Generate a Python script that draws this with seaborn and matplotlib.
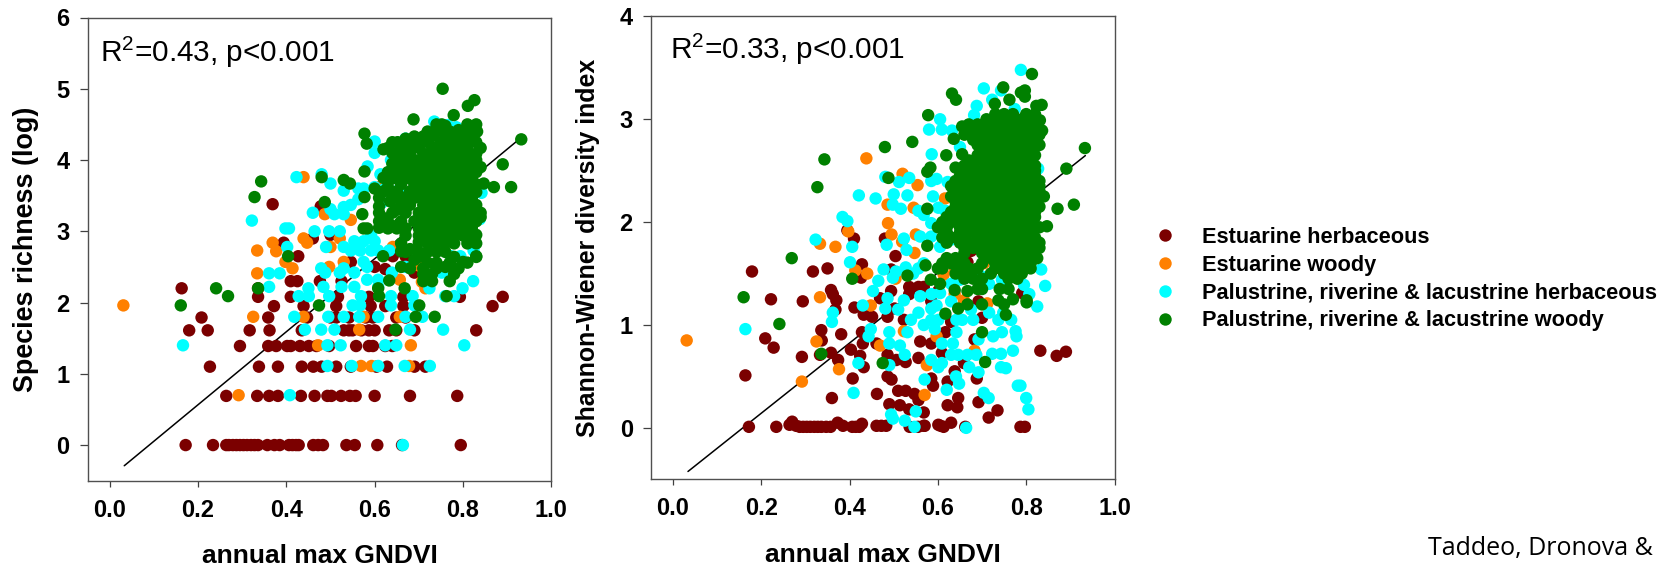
import matplotlib
matplotlib.use("Agg")
import matplotlib.pyplot as plt
import pandas as pd
import seaborn as sns

class_names = [
    "Estuarine herbaceous",
    "Estuarine woody",
    "Palustrine, riverine & lacustrine herbaceous",
    "Palustrine, riverine & lacustrine woody",
]
class_colors = ["#7B0000", "#FF8000", "#00FFFF", "#008000"]

x_ticks = [0.0, 0.2, 0.4, 0.6, 0.8, 1.0]
richness_ticks = [0, 1, 2, 3, 4, 5, 6]
shannon_ticks = [0, 1, 2, 3, 4]

# left panel: species richness (log)
rich_red_x = [
    0.172, 0.234, 0.264, 0.27, 0.279, 0.287, 0.295, 0.303, 0.311, 0.32, 0.328, 0.336, 0.357, 0.373, 0.385, 0.406, 0.414, 0.422, 0.428, 0.461, 0.472, 0.483, 0.536, 0.555, 0.606, 0.662, 0.795,
    0.264, 0.334, 0.361, 0.381, 0.433, 0.464, 0.493, 0.502, 0.524, 0.544, 0.557, 0.6, 0.68, 0.787,
    0.227, 0.338, 0.381, 0.435, 0.461, 0.48, 0.513, 0.546, 0.604, 0.628, 0.69, 0.715,
    0.295, 0.359, 0.377, 0.402, 0.41, 0.431, 0.451, 0.468, 0.497, 0.558, 0.587, 0.596, 0.624, 0.64,
    0.18, 0.222, 0.317, 0.362, 0.435, 0.53, 0.542, 0.55, 0.57, 0.587, 0.6, 0.633, 0.649, 0.69, 0.83,
    0.208, 0.359, 0.447, 0.5, 0.513, 0.542, 0.58, 0.596, 0.649, 0.67,
    0.372, 0.439, 0.513, 0.591, 0.624, 0.665, 0.867,
    0.336, 0.41, 0.517, 0.587, 0.665, 0.793, 0.89,
    0.163, 0.336, 0.41, 0.425, 0.476, 0.525,
    0.369, 0.394, 0.427, 0.478, 0.46, 0.5, 0.546, 0.6, 0.624, 0.641, 0.67, 0.69,
]
rich_red_y = [
    0, 0, 0, 0, 0, 0, 0, 0, 0, 0, 0, 0, 0, 0, 0, 0, 0, 0, 0, 0, 0, 0, 0, 0, 0, 0, 0,
    0.69, 0.69, 0.69, 0.69, 0.69, 0.69, 0.69, 0.69, 0.69, 0.69, 0.69, 0.69, 0.69, 0.69,
    1.1, 1.1, 1.1, 1.1, 1.1, 1.1, 1.1, 1.1, 1.1, 1.1, 1.1, 1.1,
    1.39, 1.39, 1.39, 1.39, 1.39, 1.39, 1.39, 1.39, 1.39, 1.39, 1.39, 1.39, 1.39, 1.39,
    1.61, 1.61, 1.61, 1.61, 1.61, 1.61, 1.61, 1.61, 1.61, 1.61, 1.61, 1.61, 1.61, 1.61, 1.61,
    1.79, 1.79, 1.79, 1.79, 1.79, 1.79, 1.79, 1.79, 1.79, 1.79,
    1.95, 1.95, 1.95, 1.95, 1.95, 1.95, 1.95,
    2.08, 2.08, 2.08, 2.08, 2.08, 2.08, 2.08,
    2.2, 2.2, 2.3, 2.3, 2.3, 2.3,
    3.38, 2.84, 2.65, 3.35, 2.9, 2.95, 2.57, 2.5, 2.47, 2.65, 2.65, 2.42,
]
rich_orange_x = [0.031, 0.325, 0.439, 0.575, 0.657, 0.565, 0.472, 0.682, 0.569, 0.593, 0.678, 0.292, 0.334, 0.334, 0.369, 0.377, 0.398, 0.414, 0.439, 0.447, 0.439, 0.487, 0.5, 0.497, 0.521, 0.53, 0.546, 0.616, 0.641, 0.657, 0.707, 0.7, 0.715]
rich_orange_y = [1.96, 1.8, 1.8, 1.8, 1.8, 1.62, 1.4, 1.4, 1.11, 1.11, 1.11, 0.7, 2.73, 2.41, 2.84, 2.72, 2.57, 2.48, 2.9, 2.84, 3.76, 3.24, 2.78, 2.5, 2.9, 2.57, 3.16, 3.64, 2.78, 2.32, 2.29, 2.52, 2.2]
rich_cyan_x = [
    0.166, 0.322, 0.423, 0.48, 0.5, 0.398, 0.406, 0.402, 0.361, 0.385, 0.361, 0.46, 0.464, 0.49, 0.479, 0.488, 0.428, 0.451, 0.45, 0.484, 0.497,
    0.418, 0.495, 0.53, 0.565, 0.608, 0.67, 0.708, 0.442, 0.479, 0.509, 0.68, 0.755, 0.493, 0.523, 0.624, 0.649, 0.803, 0.493, 0.548, 0.608, 0.668, 0.725, 0.408, 0.664,
    0.525, 0.554, 0.569, 0.55, 0.567, 0.637, 0.637, 0.686, 0.69, 0.608, 0.639, 0.583, 0.608, 0.554, 0.521, 0.53, 0.583, 0.575,
    0.546, 0.567, 0.592, 0.608, 0.633, 0.53, 0.554, 0.575, 0.6, 0.592, 0.497, 0.521, 0.509, 0.53, 0.5, 0.53, 0.546, 0.563, 0.575, 0.6, 0.616, 0.53, 0.563,
    0.6, 0.6, 0.584, 0.613, 0.637, 0.67, 0.735, 0.785, 0.765, 0.842, 0.838, 0.823, 0.799, 0.78, 0.76, 0.724, 0.773, 0.752, 0.794, 0.773, 0.824, 0.67, 0.699, 0.657, 0.724, 0.624, 0.64,
]
rich_cyan_y = [
    1.4, 3.15, 3.76, 3.8, 3.67, 3.04, 3.04, 2.78, 2.41, 2.41, 2.22, 3.26, 3.0, 2.78, 2.48, 2.42, 2.09, 2.09, 2.2, 2.22, 2.09,
    1.8, 1.8, 1.8, 1.8, 1.8, 1.8, 1.8, 1.62, 1.62, 1.62, 1.62, 1.62, 1.4, 1.4, 1.4, 1.4, 1.4, 1.11, 1.11, 1.11, 1.11, 1.11, 0.7, 0,
    2.22, 2.22, 2.09, 1.96, 1.96, 2.09, 1.96, 2.09, 1.96, 2.22, 2.42, 2.32, 2.32, 2.42, 2.42, 2.48, 2.5, 2.57,
    2.73, 2.73, 2.73, 2.73, 2.73, 2.78, 2.86, 2.86, 2.86, 2.94, 3.0, 3.0, 3.24, 3.24, 3.31, 3.34, 3.37, 3.45, 3.6, 3.62, 3.4, 3.57, 3.6,
    4.26, 4.1, 3.91, 3.8, 4.0, 4.3, 4.54, 4.46, 4.49, 3.54, 3.17, 2.3, 2.2, 2.09, 2.09, 2.2, 2.42, 2.42, 2.65, 2.65, 2.73, 2.5, 3.17, 3.6, 4.35, 3.6, 4.0,
]
rich_green_x = [
    0.754, 0.826, 0.811, 0.688, 0.779, 0.577, 0.582, 0.577, 0.577, 0.572, 0.575, 0.583, 0.343, 0.328, 0.48, 0.487, 0.53, 0.544, 0.404, 0.336, 0.241, 0.268, 0.161, 0.474,
    0.647, 0.693, 0.736, 0.701, 0.668, 0.608, 0.61, 0.763, 0.633, 0.619, 0.932, 0.89, 0.87, 0.909, 0.847,
    0.74, 0.752, 0.76, 0.81, 0.83, 0.72, 0.741, 0.77, 0.79, 0.8, 0.822, 0.832, 0.69, 0.71, 0.733, 0.76, 0.78, 0.8, 0.822,
    0.64, 0.652, 0.67, 0.7, 0.72, 0.75, 0.77, 0.79, 0.81, 0.83, 0.63, 0.66, 0.68, 0.7, 0.73, 0.75, 0.77, 0.79, 0.81, 0.84,
    0.66, 0.68, 0.71, 0.73, 0.75, 0.77, 0.79, 0.81, 0.83, 0.67, 0.69, 0.71, 0.73, 0.75, 0.77, 0.79, 0.81, 0.83,
    0.68, 0.7, 0.72, 0.74, 0.76, 0.78, 0.8, 0.82, 0.63, 0.65, 0.67, 0.69, 0.71, 0.73, 0.75, 0.77, 0.79, 0.81, 0.83,
    0.64, 0.66, 0.68, 0.7, 0.72, 0.74, 0.76, 0.78, 0.8, 0.82, 0.66, 0.69, 0.71, 0.73, 0.75, 0.77, 0.79, 0.81, 0.83,
    0.62, 0.65, 0.68, 0.7, 0.72, 0.74, 0.76, 0.78, 0.8, 0.82, 0.61, 0.64, 0.67, 0.69, 0.71, 0.73, 0.75, 0.77, 0.79, 0.81, 0.82,
    0.66, 0.68, 0.71, 0.73, 0.75, 0.77, 0.79, 0.81, 0.83, 0.61, 0.64, 0.67, 0.7, 0.72, 0.74, 0.76, 0.78, 0.8, 0.82, 0.84,
    0.61, 0.63, 0.66, 0.69, 0.71, 0.73, 0.75, 0.77, 0.79, 0.81, 0.83, 0.63, 0.65, 0.67, 0.7, 0.72, 0.74, 0.76, 0.78, 0.8,
    0.67, 0.7, 0.72, 0.74, 0.76, 0.78, 0.8, 0.82, 0.66, 0.72, 0.74, 0.76, 0.78, 0.81, 0.83, 0.67, 0.7, 0.72, 0.74, 0.76,
    0.7, 0.78, 0.83, 0.72, 0.74, 0.77, 0.81, 0.68, 0.71, 0.74, 0.78, 0.79, 0.71, 0.73, 0.71, 0.73, 0.77,
    0.62, 0.64, 0.65, 0.64, 0.655, 0.665, 0.62, 0.6, 0.63, 0.655, 0.61, 0.635, 0.65, 0.625, 0.655, 0.61, 0.69, 0.67, 0.84, 0.83, 0.83, 0.84, 0.82, 0.83, 0.8, 0.78, 0.76, 0.66, 0.68, 0.7, 0.69, 0.66,
]
rich_green_y = [
    5.0, 4.84, 4.76, 4.57, 4.63, 4.37, 4.23, 3.84, 3.48, 3.24, 3.04, 3.04, 3.7, 3.48, 3.76, 3.41, 3.72, 3.67, 2.65, 2.2, 2.2, 2.09, 1.96, 1.96,
    1.62, 1.8, 1.8, 1.96, 2.2, 2.2, 2.09, 2.09, 2.31, 2.65, 4.29, 3.94, 3.62, 3.62, 3.67,
    4.5, 4.5, 4.48, 4.5, 4.5, 4.4, 4.41, 4.4, 4.42, 4.4, 4.41, 4.4, 4.33, 4.33, 4.34, 4.33, 4.33, 4.33, 4.33,
    4.25, 4.25, 4.25, 4.26, 4.25, 4.25, 4.25, 4.26, 4.25, 4.25, 4.17, 4.17, 4.17, 4.17, 4.18, 4.17, 4.17, 4.17, 4.17, 4.17,
    4.09, 4.09, 4.09, 4.09, 4.09, 4.1, 4.09, 4.09, 4.09, 4.0, 4.0, 4.0, 4.01, 4.0, 4.0, 4.0, 4.0, 4.0,
    3.91, 3.91, 3.91, 3.91, 3.92, 3.91, 3.91, 3.91, 3.83, 3.83, 3.83, 3.83, 3.83, 3.83, 3.84, 3.83, 3.83, 3.83, 3.83,
    3.74, 3.74, 3.74, 3.74, 3.74, 3.74, 3.74, 3.75, 3.74, 3.74, 3.66, 3.66, 3.66, 3.66, 3.66, 3.66, 3.66, 3.66, 3.66,
    3.56, 3.56, 3.56, 3.56, 3.56, 3.56, 3.56, 3.57, 3.56, 3.56, 3.47, 3.47, 3.47, 3.47, 3.47, 3.47, 3.47, 3.47, 3.47, 3.47, 3.47,
    3.37, 3.37, 3.37, 3.37, 3.37, 3.37, 3.37, 3.37, 3.37, 3.26, 3.26, 3.26, 3.26, 3.26, 3.26, 3.26, 3.26, 3.26, 3.26, 3.26,
    3.14, 3.14, 3.14, 3.14, 3.14, 3.14, 3.14, 3.14, 3.14, 3.14, 3.14, 3.04, 3.04, 3.04, 3.04, 3.04, 3.04, 3.04, 3.04, 3.04,
    2.94, 2.94, 2.94, 2.94, 2.94, 2.94, 2.94, 2.94, 2.83, 2.83, 2.83, 2.83, 2.83, 2.83, 2.83, 2.71, 2.71, 2.71, 2.71, 2.71,
    2.64, 2.64, 2.64, 2.56, 2.56, 2.56, 2.56, 2.48, 2.48, 2.48, 2.48, 2.48, 2.4, 2.4, 2.3, 2.3, 2.3,
    4.15, 4.1, 4.02, 3.95, 3.88, 4.0, 3.75, 3.6, 3.62, 3.5, 3.35, 3.42, 3.3, 3.18, 3.1, 3.05, 4.2, 4.3, 3.9, 3.55, 2.95, 3.2, 3.05, 2.65, 2.57, 2.4, 2.5, 2.5, 2.75, 2.85, 2.6, 2.72,
]

# right panel: Shannon-Wiener index
shan_red_x = [
    0.172, 0.234, 0.264, 0.27, 0.279, 0.287, 0.295, 0.303, 0.311, 0.32, 0.328, 0.336, 0.347, 0.357, 0.373, 0.385, 0.406, 0.414, 0.422, 0.428, 0.461, 0.472, 0.483, 0.536, 0.555, 0.57, 0.606, 0.613, 0.662, 0.787, 0.797,
    0.179, 0.222, 0.209, 0.228, 0.164, 0.317, 0.294, 0.35, 0.358, 0.362, 0.37, 0.368, 0.336, 0.337, 0.381, 0.292, 0.333, 0.358, 0.374, 0.403, 0.424, 0.432, 0.407, 0.36, 0.462,
    0.428, 0.426, 0.411, 0.41, 0.395, 0.48, 0.504, 0.494, 0.494, 0.469, 0.432, 0.451, 0.428, 0.43, 0.461, 0.486, 0.502, 0.523, 0.486, 0.506, 0.527, 0.556, 0.56, 0.585, 0.609, 0.617, 0.63,
    0.659, 0.638, 0.622, 0.646, 0.622, 0.644, 0.63, 0.692, 0.715, 0.735, 0.486, 0.495, 0.585, 0.589, 0.688, 0.49, 0.51, 0.527, 0.547, 0.556, 0.514, 0.535, 0.568, 0.601, 0.568,
    0.535, 0.556, 0.535, 0.568, 0.585, 0.601, 0.692, 0.7, 0.683, 0.832, 0.869, 0.89, 0.791, 0.675, 0.667,
]
shan_red_y = [
    0.01, 0.01, 0.03, 0.06, 0.02, 0.01, 0.01, 0.01, 0.01, 0.01, 0.01, 0.01, 0.01, 0.01, 0.05, 0.02, 0.01, 0.01, 0.01, 0.04, 0.02, 0.02, 0.02, 0.01, 0.01, 0.02, 0.02, 0.01, 0.01, 0.01, 0.01,
    1.52, 1.25, 0.87, 0.78, 0.51, 1.52, 1.23, 1.55, 1.34, 1.3, 1.24, 1.15, 0.95, 0.85, 0.91, 0.69, 0.71, 0.73, 0.66, 0.76, 0.7, 0.59, 0.48, 0.29, 0.33,
    1.59, 1.46, 1.17, 1.84, 1.92, 1.84, 1.67, 1.54, 1.33, 1.26, 1.1, 1.08, 0.93, 0.82, 0.82, 1.08, 1.16, 1.05, 0.71, 0.66, 0.64, 0.68, 0.84, 0.82, 0.73, 0.93, 1.03,
    0.63, 0.55, 0.45, 0.29, 0.22, 0.2, 0.05, 0.25, 0.1, 0.17, 0.5, 0.47, 0.48, 0.41, 0.48, 0.23, 0.36, 0.36, 0.33, 0.27, 0.22, 0.18, 0.15, 0.03, 0.02,
    1.37, 1.37, 1.3, 1.37, 1.23, 1.33, 1.23, 1.07, 0.86, 0.75, 0.7, 0.74, 1.31, 1.72, 1.61,
]
shan_orange_x = [0.031, 0.333, 0.368, 0.397, 0.438, 0.413, 0.44, 0.333, 0.325, 0.376, 0.292, 0.448, 0.469, 0.504, 0.486, 0.487, 0.495, 0.519, 0.52, 0.554, 0.545, 0.55, 0.547, 0.523, 0.597, 0.575, 0.57, 0.616, 0.609, 0.613, 0.638, 0.638, 0.659, 0.683, 0.712, 0.733, 0.675, 0.704]
shan_orange_y = [0.85, 1.79, 1.76, 1.91, 2.62, 1.53, 1.5, 1.27, 0.84, 0.57, 0.45, 1.19, 0.8, 1.45, 2.17, 1.99, 1.88, 1.81, 2.47, 2.36, 2.14, 1.88, 1.7, 0.94, 0.89, 0.61, 0.32, 2.23, 1.97, 1.49, 1.54, 1.3, 1.24, 0.75, 1.21, 3.01, 2.32, 1.6]
shan_cyan_x = [
    0.164, 0.323, 0.384, 0.395, 0.406, 0.401, 0.362, 0.36, 0.421, 0.459, 0.481, 0.512, 0.535, 0.5, 0.531, 0.498, 0.516, 0.523, 0.484, 0.529, 0.477, 0.527, 0.498, 0.465, 0.453, 0.43, 0.486, 0.481, 0.523, 0.51,
    0.448, 0.443, 0.49, 0.49, 0.514, 0.531, 0.525, 0.42, 0.49, 0.409, 0.57, 0.585, 0.601, 0.609, 0.494, 0.498, 0.525, 0.55, 0.547, 0.664, 0.62, 0.641, 0.648, 0.671, 0.692, 0.704, 0.715, 0.781, 0.787, 0.8, 0.805,
    0.743, 0.754, 0.723, 0.743, 0.77, 0.778, 0.776, 0.725, 0.745, 0.692, 0.687, 0.667, 0.646, 0.63, 0.642, 0.634, 0.609, 0.593, 0.568, 0.539, 0.585, 0.601, 0.642, 0.655, 0.68, 0.675, 0.63, 0.585, 0.597, 0.56, 0.585, 0.605, 0.556, 0.63, 0.65,
    0.716, 0.737, 0.766, 0.748, 0.807, 0.825, 0.843, 0.834, 0.795, 0.716, 0.745, 0.7, 0.568, 0.556, 0.544, 0.505, 0.605, 0.63, 0.56, 0.585, 0.568, 0.556, 0.585, 0.601, 0.617, 0.589, 0.585, 0.597, 0.622, 0.586, 0.58, 0.605, 0.609, 0.632, 0.65, 0.682, 0.688, 0.704, 0.723, 0.743, 0.788, 0.827, 0.774,
]
shan_cyan_y = [
    0.96, 1.83, 2.05, 2.01, 1.76, 1.61, 1.12, 1.03, 2.26, 2.23, 2.44, 2.39, 2.43, 2.27, 2.26, 2.17, 2.13, 1.84, 1.78, 1.73, 1.54, 1.56, 1.46, 1.43, 1.33, 1.19, 1.26, 1.16, 1.24, 1.15,
    0.96, 0.89, 0.93, 0.82, 0.8, 0.93, 0.71, 0.63, 0.61, 0.34, 0.47, 0.66, 0.59, 0.63, 0.13, 0.09, 0.07, 0.16, 0.01, 0.0, 0.37, 0.5, 0.43, 0.59, 0.54, 0.34, 0.29, 0.41, 0.41, 0.29, 0.18,
    0.59, 0.58, 0.72, 0.72, 0.75, 0.89, 0.94, 0.89, 0.93, 0.86, 0.71, 0.71, 0.71, 0.71, 0.93, 0.82, 0.82, 0.96, 1.0, 1.05, 1.05, 1.05, 1.05, 1.05, 1.05, 1.15, 1.23, 1.16, 1.19, 1.28, 1.3, 1.31, 1.12, 1.4, 1.44,
    1.12, 1.05, 1.05, 1.12, 1.3, 1.18, 1.38, 1.54, 1.39, 1.4, 1.44, 1.47, 1.6, 1.55, 1.5, 1.52, 1.76, 1.83, 1.86, 1.86, 2.07, 2.11, 1.99, 2.14, 2.11, 2.25, 2.4, 2.42, 2.39, 2.66, 2.9, 3.0, 2.9, 2.89, 2.73, 3.04, 3.13, 3.3, 3.19, 3.28, 3.48, 2.52, 3.1,
]
shan_green_x = [
    0.813, 0.748, 0.632, 0.641, 0.578, 0.542, 0.48, 0.636, 0.343, 0.327, 0.488, 0.576, 0.583, 0.619, 0.64, 0.655, 0.933, 0.891, 0.871, 0.908, 0.847, 0.269, 0.16, 0.241, 0.406, 0.336, 0.475, 0.707, 0.7,
    0.531, 0.572, 0.576, 0.576, 0.584, 0.605, 0.638, 0.617, 0.646, 0.667, 0.667, 0.737, 0.754, 0.77, 0.801, 0.801, 0.655, 0.675, 0.696, 0.72, 0.729, 0.762, 0.788, 0.797, 0.797, 0.823, 0.835, 0.831, 0.836,
    0.73, 0.75, 0.77, 0.8, 0.82, 0.67, 0.69, 0.72, 0.74, 0.76, 0.78, 0.8, 0.82, 0.66, 0.68, 0.7, 0.73, 0.75, 0.77, 0.79, 0.81, 0.83, 0.69, 0.71, 0.73, 0.75, 0.77, 0.79, 0.81, 0.83,
    0.69, 0.72, 0.74, 0.76, 0.78, 0.8, 0.82, 0.66, 0.68, 0.71, 0.73, 0.75, 0.77, 0.79, 0.81, 0.82, 0.65, 0.67, 0.69, 0.72, 0.74, 0.76, 0.78, 0.8, 0.82,
    0.63, 0.65, 0.67, 0.7, 0.72, 0.74, 0.76, 0.78, 0.8, 0.83, 0.63, 0.65, 0.68, 0.7, 0.73, 0.75, 0.77, 0.79, 0.81, 0.84, 0.64, 0.66, 0.69, 0.71, 0.73, 0.75, 0.77, 0.79, 0.81, 0.83,
    0.62, 0.64, 0.67, 0.7, 0.72, 0.74, 0.76, 0.78, 0.8, 0.82, 0.6, 0.62, 0.65, 0.68, 0.71, 0.73, 0.75, 0.77, 0.79, 0.81, 0.83, 0.61, 0.63, 0.66, 0.69, 0.72, 0.74, 0.76, 0.78, 0.8, 0.82,
    0.66, 0.68, 0.71, 0.73, 0.75, 0.77, 0.79, 0.81, 0.83, 0.62, 0.64, 0.72, 0.74, 0.76, 0.78, 0.8, 0.825, 0.6, 0.61, 0.65, 0.67, 0.69, 0.73, 0.75, 0.77, 0.79, 0.81,
    0.66, 0.68, 0.7, 0.76, 0.78, 0.74, 0.76, 0.7, 0.69, 0.7, 0.75,
    0.71, 0.74, 0.76, 0.79, 0.81, 0.7, 0.72, 0.74, 0.76, 0.78, 0.8, 0.82, 0.68, 0.7, 0.72, 0.74, 0.76, 0.78, 0.8, 0.82,
    0.7, 0.73, 0.75, 0.77, 0.79, 0.81, 0.67, 0.7, 0.73, 0.75, 0.77, 0.79, 0.81, 0.66, 0.68, 0.7, 0.72, 0.74, 0.76, 0.78, 0.8, 0.82,
    0.64, 0.66, 0.68, 0.71, 0.73, 0.75, 0.77, 0.79, 0.81, 0.83, 0.64, 0.66, 0.69, 0.71, 0.73, 0.75, 0.77, 0.79, 0.81, 0.83, 0.64, 0.67, 0.7, 0.72, 0.74, 0.76, 0.78, 0.8, 0.82,
    0.63, 0.65, 0.68, 0.7, 0.72, 0.74, 0.76, 0.78, 0.8, 0.82, 0.61, 0.63, 0.66, 0.69, 0.71, 0.73, 0.75, 0.77, 0.79, 0.81, 0.62, 0.65, 0.67, 0.7, 0.73, 0.75, 0.77, 0.79, 0.81,
    0.62, 0.65, 0.67, 0.7, 0.73, 0.75, 0.77, 0.79, 0.81, 0.83, 0.66, 0.7, 0.73, 0.75, 0.77, 0.79, 0.81, 0.61, 0.63, 0.66, 0.7, 0.73, 0.75, 0.77, 0.79, 0.81, 0.64, 0.67, 0.72, 0.75, 0.77, 0.79,
]
shan_green_y = [
    3.44, 3.31, 3.25, 3.19, 3.04, 2.78, 2.73, 2.81, 2.61, 2.34, 2.43, 2.49, 2.53, 2.65, 2.53, 2.66, 2.72, 2.52, 2.13, 2.17, 1.96, 1.65, 1.27, 1.01, 1.45, 0.72, 0.63, 0.64, 0.93,
    1.48, 1.58, 1.77, 2.13, 1.44, 1.4, 1.34, 1.11, 1.16, 1.33, 1.2, 1.24, 1.1, 1.25, 1.24, 1.22, 2.93, 2.91, 2.93, 2.91, 3.15, 3.19, 3.26, 3.28, 3.22, 3.13, 3.14, 2.99, 2.89,
    3.05, 3.05, 3.05, 3.05, 3.05, 2.95, 2.95, 2.95, 2.95, 2.95, 2.95, 2.95, 2.95, 2.85, 2.85, 2.85, 2.85, 2.85, 2.85, 2.85, 2.85, 2.85, 2.75, 2.75, 2.75, 2.75, 2.75, 2.75, 2.75, 2.75,
    2.65, 2.65, 2.65, 2.65, 2.65, 2.65, 2.65, 2.55, 2.55, 2.55, 2.55, 2.55, 2.55, 2.55, 2.55, 2.55, 2.45, 2.45, 2.45, 2.45, 2.45, 2.45, 2.45, 2.45, 2.45,
    2.35, 2.35, 2.35, 2.35, 2.35, 2.35, 2.35, 2.35, 2.35, 2.35, 2.25, 2.25, 2.25, 2.25, 2.25, 2.25, 2.25, 2.25, 2.25, 2.25, 2.15, 2.15, 2.15, 2.15, 2.15, 2.15, 2.15, 2.15, 2.15, 2.15,
    2.05, 2.05, 2.05, 2.05, 2.05, 2.05, 2.05, 2.05, 2.05, 2.05, 1.95, 1.95, 1.95, 1.95, 1.95, 1.95, 1.95, 1.95, 1.95, 1.95, 1.95, 1.85, 1.85, 1.85, 1.85, 1.85, 1.85, 1.85, 1.85, 1.85, 1.85,
    1.75, 1.75, 1.75, 1.75, 1.75, 1.75, 1.75, 1.75, 1.75, 1.65, 1.65, 1.65, 1.65, 1.65, 1.65, 1.65, 1.65, 1.55, 1.55, 1.55, 1.55, 1.55, 1.55, 1.55, 1.55, 1.55, 1.55,
    1.45, 1.45, 1.45, 1.45, 1.45, 1.35, 1.35, 1.35, 1.35, 1.2, 1.2,
    3.0, 3.0, 3.0, 3.0, 3.0, 2.9, 2.9, 2.9, 2.9, 2.9, 2.9, 2.9, 2.8, 2.8, 2.8, 2.8, 2.8, 2.8, 2.8, 2.8,
    2.7, 2.7, 2.7, 2.7, 2.7, 2.7, 2.6, 2.6, 2.6, 2.6, 2.6, 2.6, 2.6, 2.5, 2.5, 2.5, 2.5, 2.5, 2.5, 2.5, 2.5, 2.5,
    2.4, 2.4, 2.4, 2.4, 2.4, 2.4, 2.4, 2.4, 2.4, 2.4, 2.3, 2.3, 2.3, 2.3, 2.3, 2.3, 2.3, 2.3, 2.3, 2.3, 2.2, 2.2, 2.2, 2.2, 2.2, 2.2, 2.2, 2.2, 2.2,
    2.1, 2.1, 2.1, 2.1, 2.1, 2.1, 2.1, 2.1, 2.1, 2.1, 2.0, 2.0, 2.0, 2.0, 2.0, 2.0, 2.0, 2.0, 2.0, 2.0, 1.9, 1.9, 1.9, 1.9, 1.9, 1.9, 1.9, 1.9, 1.9,
    1.8, 1.8, 1.8, 1.8, 1.8, 1.8, 1.8, 1.8, 1.8, 1.8, 1.7, 1.7, 1.7, 1.7, 1.7, 1.7, 1.7, 1.6, 1.6, 1.6, 1.6, 1.6, 1.6, 1.6, 1.6, 1.6, 1.5, 1.5, 1.5, 1.5, 1.5, 1.5,
]

# fitted lines
rich_fit_x = [0.033, 0.925]
rich_fit_y = [-0.29, 4.28]
shan_fit_x = [0.034, 0.934]
shan_fit_y = [-0.424, 2.647]


def make_frame(xs, ys):
    frames = []
    for name, x, y in zip(class_names, xs, ys):
        frames.append(pd.DataFrame({"x": x, "y": y, "cls": name}))
    return pd.concat(frames, ignore_index=True)


def draw_panel(ax, df, fit_x, fit_y, ylim, yticks, ylabel, label_size, note, note_pos, legend):
    sns.lineplot(x=fit_x, y=fit_y, color="black", linewidth=1.1, ax=ax, zorder=1, legend=False)
    sns.scatterplot(
        data=df, x="x", y="y", hue="cls", hue_order=class_names,
        palette=class_colors, s=80, linewidth=0, ax=ax, zorder=2, legend=legend,
    )
    ax.set_xlim(-0.05, 1.0)
    ax.set_ylim(*ylim)
    ax.set_xticks(x_ticks)
    ax.set_xticklabels(["%.1f" % t for t in x_ticks])
    ax.set_yticks(yticks)
    ax.tick_params(axis="y", length=6, width=0.9, color="#404040", pad=7, labelsize=17)
    ax.tick_params(axis="x", length=4, width=0.9, color="#404040", pad=9, labelsize=17)
    for lab in ax.get_xticklabels() + ax.get_yticklabels():
        lab.set_fontweight("bold")
    ax.set_xlabel("annual max GNDVI", fontsize=19, fontweight="bold", labelpad=16)
    ax.set_ylabel(ylabel, fontsize=label_size, fontweight="bold")
    for s in ax.spines.values():
        s.set_visible(True)
        s.set_color("#505050")
        s.set_linewidth(1.0)
    ax.text(note_pos[0], note_pos[1], note, transform=ax.transAxes, fontsize=21.4, va="baseline")


sns.set_theme(style="ticks")
plt.rcParams["font.family"] = ["Liberation Sans", "DejaVu Sans"]
plt.rcParams["mathtext.default"] = "regular"
plt.rcParams["text.color"] = "black"
plt.rcParams["axes.labelcolor"] = "black"
plt.rcParams["xtick.labelcolor"] = "black"
plt.rcParams["ytick.labelcolor"] = "black"

W, H = 1676, 569
fig = plt.figure(figsize=(W / 100, H / 100), dpi=100)
ax1 = fig.add_axes([87.6 / W, 1 - 480.7 / H, 463.7 / W, 463.2 / H])
ax2 = fig.add_axes([650.9 / W, 1 - 479.3 / H, 463.6 / W, 462.9 / H])

rich_df = make_frame(
    [rich_red_x, rich_orange_x, rich_cyan_x, rich_green_x],
    [rich_red_y, rich_orange_y, rich_cyan_y, rich_green_y],
)
shan_df = make_frame(
    [shan_red_x, shan_orange_x, shan_cyan_x, shan_green_x],
    [shan_red_y, shan_orange_y, shan_cyan_y, shan_green_y],
)

draw_panel(ax1, rich_df, rich_fit_x, rich_fit_y, (-0.5, 6), richness_ticks,
           "Species richness (log)", 19.4, "R$^{2}$=0.43, p<0.001", (0.0275, 0.904), False)
draw_panel(ax2, shan_df, shan_fit_x, shan_fit_y, (-0.5, 4), shannon_ticks,
           "Shannon-Wiener diversity index", 17.9, "R$^{2}$=0.33, p<0.001", (0.042, 0.908), "auto")
ax1.yaxis.set_label_coords(-0.105, 0.5)
ax2.yaxis.set_label_coords(-0.11, 0.5)

handles, labels = ax2.get_legend_handles_labels()
ax2.get_legend().remove()
fig.legend(
    handles, labels, loc="upper left", bbox_to_anchor=(1143.5 / W, 1 - 227 / H),
    frameon=False, labelspacing=0.31, handletextpad=0.7,
    borderpad=0, borderaxespad=0, prop={"weight": "bold", "size": 15.7},
)

fig.text(1428 / W, 1 - 555 / H, "Taddeo, Dronova &", fontsize=18, family="Open Sans", va="baseline")

fig.savefig("out.png", dpi=100)
